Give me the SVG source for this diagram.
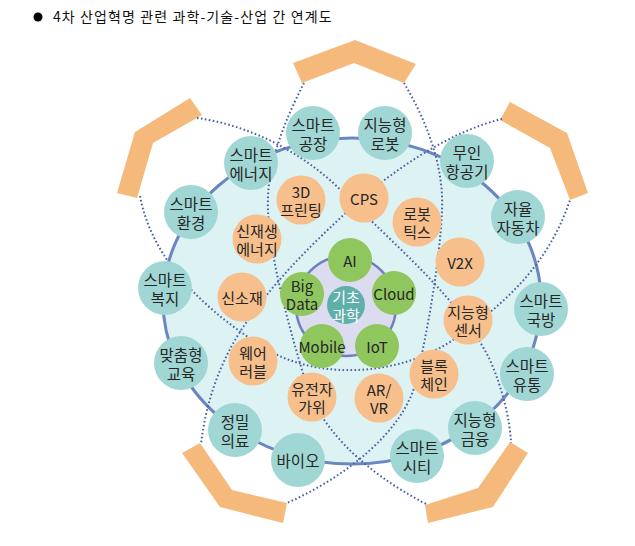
<svg xmlns="http://www.w3.org/2000/svg" width="635" height="546" viewBox="0 0 635 546">
<style>
text{font-family:"Noto Sans CJK KR","Noto Sans",sans-serif;text-anchor:middle;dominant-baseline:central;fill:#262626;font-size:15.5px}
.t{fill:#a0d7d4}
.o{fill:#f6bf8c}
.g{fill:#8fc65e}
.br{fill:#f5b97c}
.dot{fill:none;stroke:#4a5ea5;stroke-width:2;stroke-dasharray:1.6 2.4}
.ring{fill:none;stroke:#6b86c0;stroke-width:3}
.sm{font-size:15px}
</style>
<rect width="635" height="546" fill="#fff"/>
<g id="title">
<circle cx="38" cy="17" r="4.5" fill="#000"/>
<text x="53" y="16" style="text-anchor:start;font-size:14px;fill:#111;letter-spacing:1.1px">4차 산업혁명 관련 과학-기술-산업 간 연계도</text>
</g>
<ellipse cx="352" cy="301" rx="189" ry="163" fill="#ddf2f3"/>
<g id="brackets">
<polygon class="br" points="293,63 355,40 416,64 404,83 354,63 302,83"/>
<polygon class="br" points="190,98 202,115 153,143 137,198 117,193 135,132"/>
<polygon class="br" points="510,102 567,133 588,193 570,200 550,148 500,120"/>
<polygon class="br" points="528,453 493,507 428,523 425,505 478,488 510,442"/>
<polygon class="br" points="182,453 200,443 232,490 287,503 283,523 220,507"/>
</g>
<circle id="core-ring" cx="346" cy="306" r="50" fill="#dcdcf0" stroke="#6f7fc0" stroke-width="2.5"/>
<g id="connectors">
<ellipse class="ring" cx="352" cy="301" rx="189" ry="163"/>
<path class="dot" d="M304,83 C285,120 266,165 268,210 C270,260 290,330 305,380 C318,425 360,470 428,505"/>
<path class="dot" d="M404,83 C426,120 444,165 442,210 C440,260 428,330 415,385 C402,430 350,475 287,503"/>
<path class="dot" d="M197,118 C250,125 310,155 350,200 C400,250 460,300 490,360 C503,390 510,420 511,443"/>
<path class="dot" d="M502,119 C455,130 400,165 360,200 C310,245 265,290 235,340 C215,375 205,410 201,444"/>
<path class="dot" d="M140,196 C150,250 190,300 260,345 C310,380 400,380 460,335 C510,300 550,260 570,200"/>
</g>
<g id="n-smart-factory"><circle class="t" cx="313" cy="133" r="27"/><text x="313" y="124">스마트<tspan x="313" dy="19">공장</tspan></text></g>
<g id="n-intel-robot"><circle class="t" cx="385" cy="133" r="27"/><text x="385" y="124">지능형<tspan x="385" dy="19">로봇</tspan></text></g>
<g id="n-drone"><circle class="t" cx="467" cy="161" r="27"/><text x="467" y="152">무인<tspan x="467" dy="19">항공기</tspan></text></g>
<g id="n-auto-car"><circle class="t" cx="518" cy="217" r="27"/><text x="518" y="208">자율<tspan x="518" dy="19">자동차</tspan></text></g>
<g id="n-defense"><circle class="t" cx="541" cy="309" r="27"/><text x="541" y="300">스마트<tspan x="541" dy="19">국방</tspan></text></g>
<g id="n-logistics"><circle class="t" cx="527" cy="374" r="27"/><text x="527" y="365">스마트<tspan x="527" dy="19">유통</tspan></text></g>
<g id="n-finance"><circle class="t" cx="475" cy="428" r="27"/><text x="475" y="419">지능형<tspan x="475" dy="19">금융</tspan></text></g>
<g id="n-city"><circle class="t" cx="417" cy="456" r="27"/><text x="417" y="447">스마트<tspan x="417" dy="19">시티</tspan></text></g>
<g id="n-bio"><circle class="t" cx="298" cy="460" r="27"/><text x="298" y="460">바이오</text></g>
<g id="n-medical"><circle class="t" cx="235" cy="430" r="27"/><text x="235" y="421">정밀<tspan x="235" dy="19">의료</tspan></text></g>
<g id="n-education"><circle class="t" cx="181" cy="363" r="27"/><text x="181" y="354">맞춤형<tspan x="181" dy="19">교육</tspan></text></g>
<g id="n-welfare"><circle class="t" cx="165" cy="288" r="27"/><text x="165" y="279">스마트<tspan x="165" dy="19">복지</tspan></text></g>
<g id="n-environment"><circle class="t" cx="191" cy="212" r="27"/><text x="191" y="203">스마트<tspan x="191" dy="19">환경</tspan></text></g>
<g id="n-energy"><circle class="t" cx="251" cy="163" r="27"/><text x="251" y="154">스마트<tspan x="251" dy="19">에너지</tspan></text></g>
<g id="n-3d"><circle class="o" cx="301" cy="200" r="24.5"/><text class="sm" x="301" y="191">3D<tspan x="301" dy="18">프린팅</tspan></text></g>
<g id="n-cps"><circle class="o" cx="364" cy="198" r="24.5"/><text class="sm" x="364" y="198">CPS</text></g>
<g id="n-robotics"><circle class="o" cx="417" cy="222" r="24.5"/><text class="sm" x="417" y="213">로봇<tspan x="417" dy="18">틱스</tspan></text></g>
<g id="n-v2x"><circle class="o" cx="460" cy="262" r="24.5"/><text class="sm" x="460" y="262">V2X</text></g>
<g id="n-sensor"><circle class="o" cx="468" cy="320" r="24.5"/><text class="sm" x="468" y="311">지능형<tspan x="468" dy="18">센서</tspan></text></g>
<g id="n-blockchain"><circle class="o" cx="434" cy="374" r="24.5"/><text class="sm" x="434" y="365">블록<tspan x="434" dy="18">체인</tspan></text></g>
<g id="n-arvr"><circle class="o" cx="379" cy="398" r="24.5"/><text class="sm" x="379" y="389">AR/<tspan x="379" dy="18">VR</tspan></text></g>
<g id="n-gene"><circle class="o" cx="312" cy="397" r="24.5"/><text class="sm" x="312" y="388">유전자<tspan x="312" dy="18">가위</tspan></text></g>
<g id="n-wearable"><circle class="o" cx="253" cy="361" r="24.5"/><text class="sm" x="253" y="352">웨어<tspan x="253" dy="18">러블</tspan></text></g>
<g id="n-material"><circle class="o" cx="242" cy="297" r="24.5"/><text class="sm" x="242" y="297">신소재</text></g>
<g id="n-renewable"><circle class="o" cx="257" cy="239" r="24.5"/><text class="sm" x="257" y="230">신재생<tspan x="257" dy="18">에너지</tspan></text></g>
<g id="n-ai"><circle class="g" cx="350" cy="260" r="22"/><text class="sm" x="350" y="260">AI</text></g>
<g id="n-bigdata"><circle class="g" cx="302" cy="294" r="22"/><text class="sm" x="302" y="285">Big<tspan x="302" dy="18">Data</tspan></text></g>
<g id="n-cloud"><circle class="g" cx="394" cy="293" r="22"/><text class="sm" x="394" y="293">Cloud</text></g>
<g id="n-mobile"><circle class="g" cx="322" cy="346" r="22"/><text class="sm" x="322" y="346">Mobile</text></g>
<g id="n-iot"><circle class="g" cx="377" cy="346" r="22"/><text class="sm" x="377" y="346">IoT</text></g>
<g id="n-basic-science"><circle cx="346" cy="305" r="19" fill="#5fb0ab"/><text class="sm" x="346" y="296" style="fill:#fff">기초<tspan x="346" dy="18">과학</tspan></text></g>
</svg>
